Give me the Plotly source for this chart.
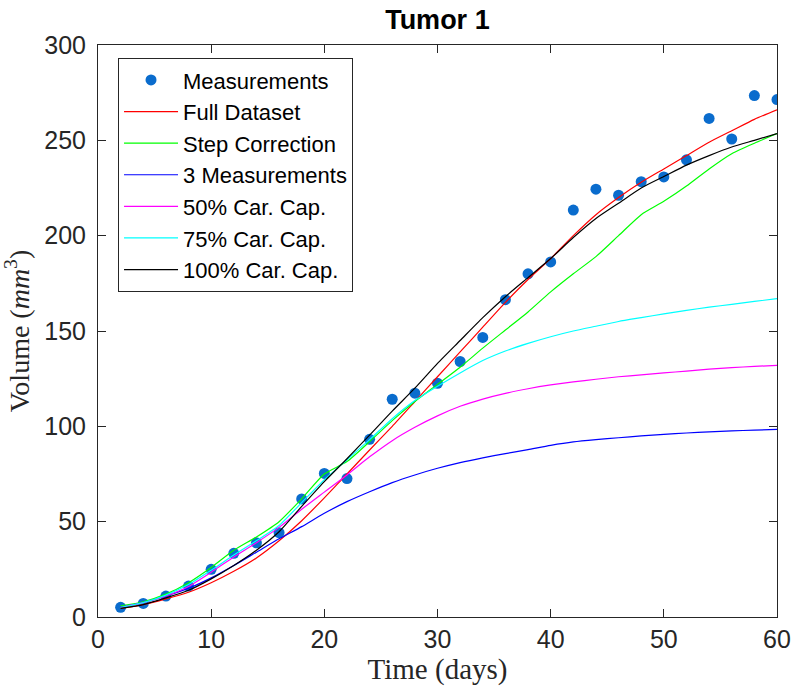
import plotly.graph_objects as go

# Observation days
days = list(range(2, 61, 2))

# Measured tumor volumes (mm^3)
measurements = [5.1, 7.1, 11.0, 16.2, 25.0, 33.4, 38.9, 44.2, 61.9, 75.3,
                72.6, 93.2, 114.2, 117.4, 122.6, 134.0, 146.6, 166.4, 180.0, 186.2,
                213.4, 224.4, 221.2, 228.3, 230.8, 239.8, 261.5, 250.7, 273.5, 271.4]

# Model predictions
full_dataset = [4.5, 6.5, 9.5, 13, 18, 24, 31, 40, 50.5, 62.5,
                75, 87.6, 100, 113, 126, 139, 152, 165, 177, 188,
                200, 211, 220, 228, 235, 242, 249, 255, 261, 266]

step_correction = [5.8, 8, 12, 18, 26, 35, 42, 50, 62, 75,
                   81.5, 92, 103, 113, 122, 131, 141, 150.5, 160, 170.5,
                   180, 189, 200, 211, 218, 226, 235, 243, 248.5, 253.5]

three_measurements = [5, 7.5, 11, 15, 20.5, 27, 34, 41, 47.4, 54.4,
                      60.5, 65.7, 70.5, 74.5, 78, 81, 83.5, 85.7, 87.8, 90,
                      91.8, 93, 94, 95, 95.8, 96.5, 97.1, 97.6, 98, 98.4]

cap_50 = [5, 7.5, 11, 16, 23.5, 31.5, 39, 47, 56.5, 65.5,
          74.5, 84, 92.5, 99.5, 105.5, 110.5, 114.3, 117.3, 119.7, 121.7,
          123.3, 124.7, 126, 127, 128, 129, 130, 130.8, 131.4, 132]

cap_75 = [5, 7.5, 11.5, 17, 24.5, 32.5, 40, 48, 60, 72,
          82.5, 93, 104, 113.5, 121, 128, 134.5, 139.5, 143.5, 147,
          150, 152.5, 155, 157, 159, 160.8, 162.5, 164, 165.5, 167]

cap_100 = [4.5, 6.5, 10, 14, 20, 27, 35, 44.7, 58, 71,
           83, 95.4, 108, 120, 133, 145, 157, 168, 178, 188,
           199, 209, 217, 225, 231, 237, 242, 246.5, 250, 253.5]

series = [
    ("Full Dataset", full_dataset, "#ff0000"),
    ("Step Correction", step_correction, "#00ff00"),
    ("3 Measurements", three_measurements, "#0000ff"),
    ("50% Car. Cap.", cap_50, "#ff00ff"),
    ("75% Car. Cap.", cap_75, "#00ffff"),
    ("100% Car. Cap.", cap_100, "#000000"),
]

fig = go.Figure()
fig.add_trace(go.Scatter(
    x=days, y=measurements, mode="markers", name="Measurements",
    marker=dict(size=11, color="#0a6ccd"), legendgroup="m",
))
for name, vals, color in series:
    fig.add_trace(go.Scatter(
        x=days, y=vals, mode="lines", name=name,
        line=dict(color=color, width=1.2, shape="spline", smoothing=0.6),
        legendgroup=name,
    ))

axis_color = "#262626"
common_axis = dict(
    showline=True, linecolor=axis_color, linewidth=1, mirror="ticks",
    ticks="inside", ticklen=8, tickcolor=axis_color, tickwidth=1,
    showgrid=False, zeroline=False, automargin=False,
    tickfont=dict(family="Liberation Sans", size=25, color=axis_color),
)

fig.update_layout(
    width=795, height=688,
    margin=dict(l=98, r=18, t=45, b=71),
    paper_bgcolor="white", plot_bgcolor="white",
    title=dict(text="<b>Tumor 1</b>", x=0.5502, xanchor="center", y=0.972, yanchor="middle",
               font=dict(family="Liberation Sans", size=27, color="black")),
    xaxis=dict(range=[0, 60], dtick=10, ticklabelstandoff=0,
               title=dict(text="Time (days)", standoff=4,
                          font=dict(family="Liberation Serif", size=29, color=axis_color)),
               **common_axis),
    yaxis=dict(range=[0, 300], dtick=50, ticklabelstandoff=6,
               title=dict(text="Volume (<i>mm</i><sup>3</sup>)", standoff=6,
                          font=dict(family="Liberation Serif", size=28, color=axis_color)),
               **common_axis),
    legend=dict(x=0.0295, y=0.977, xanchor="left", yanchor="top",
                bgcolor="white", bordercolor=axis_color, borderwidth=1,
                font=dict(family="Liberation Sans", size=22, color="black"),
                itemwidth=54, tracegroupgap=0),
    showlegend=True,
)

fig.write_html("out.html")
